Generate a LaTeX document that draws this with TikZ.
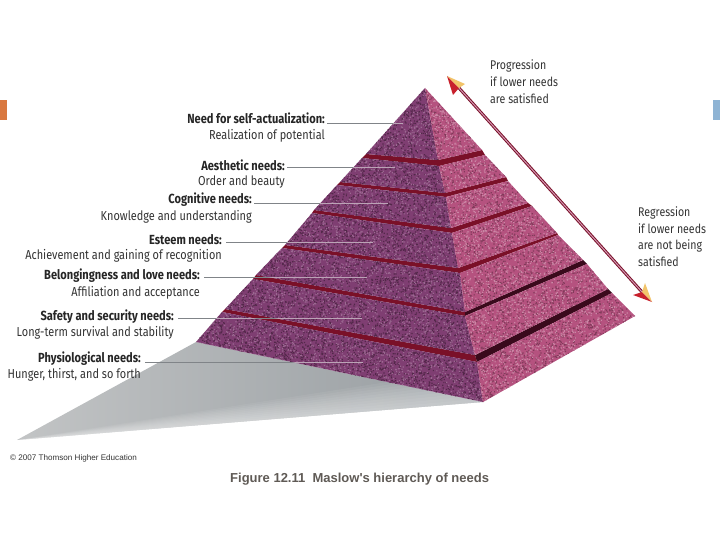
\documentclass[tikz,border=0pt]{standalone}
\usepackage{fontspec}
\setmainfont[FakeStretch=0.84]{Fira Sans}
\newfontfamily\capfont{Liberation Sans}
\definecolor{lface}{HTML}{7F3E72}
\definecolor{rface}{HTML}{B5527F}
\definecolor{slot}{HTML}{7A1028}
\definecolor{slotdark}{HTML}{3A0A1C}
\definecolor{lead}{HTML}{808488}
\definecolor{leadin}{HTML}{BBA3B6}
\definecolor{txt}{HTML}{333333}
\definecolor{capcol}{HTML}{5F5A55}
\definecolor{arrred}{HTML}{C8202C}
\definecolor{arryel}{HTML}{F2C46A}
\definecolor{sqorange}{HTML}{D97840}
\definecolor{sqblue}{HTML}{8FB4D4}
\definecolor{shlight}{HTML}{C2C4C5}
\definecolor{shdark}{HTML}{969CA0}
\colorlet{lsd}{black!35!lface}
\colorlet{lsl}{white!22!lface}
\colorlet{rsd}{black!28!rface}
\colorlet{rsl}{white!30!rface}
\tikzset{
  head/.style={font=\fontsize{13.2}{15}\selectfont\bfseries,text=black!85,anchor=east,inner sep=0pt},
  sub/.style={font=\fontsize{13}{15}\selectfont,text=txt,anchor=east,inner sep=0pt},
  note/.style={font=\fontsize{12.6}{15}\selectfont,text=txt,anchor=west,inner sep=0pt},
  leader/.style={draw=lead,line width=0.9pt},
  leaderin/.style={draw=leadin,line width=0.9pt}
}
\makeatletter
\newdimen\spx \newdimen\spy \newdimen\spw \newdimen\sph \newdimen\spxo \newdimen\spyo
\newcount\spn \newcount\spm
\def\spstep{%
  \ifnum\spm>0
    \pgfmathrnd\spx=\pgfmathresult\spw
    \pgfmathrnd\spy=\pgfmathresult\sph
    \advance\spx\spxo \advance\spy\spyo
    \spx=0.99626\spx \spy=-0.99626\spy
    \edef\spacc{\spacc\strip@pt\spx\space\strip@pt\spy\space 1.2 1.2 re }%
    \advance\spm-1
    \expandafter\spstep
  \fi}
\def\spbatch{%
  \ifnum\spn>0
    \def\spacc{}\spm=300 \spstep
    \pgfsys@invoke{\spacc f }%
    \advance\spn-300
    \expandafter\spbatch
  \fi}
\newcommand{\specks}[6]{% x0 y0 w h n colour
  \pgfscope\pgfsetfillcolor{#6}%
  \spxo=#1pt \spyo=#2pt \spw=#3pt \sph=#4pt \spn=#5\relax
  \spbatch
  \endpgfscope}
\makeatother
\newcommand{\leftfaces}{
  (425,88) -- (366,154) -- (438,160) -- cycle
  (362,158) -- (340,182) -- (445,193) -- (439,166) -- cycle
  (337,185) -- (314,210) -- (451,228) -- (446,197) -- cycle
  (312,213) -- (285,245) -- (458,268) -- (452,233) -- cycle
  (282,248) -- (256,275) -- (465,312) -- (460,273) -- cycle
  (253,279) -- (225,309) -- (475,355) -- (465,316) -- cycle
  (222,312) -- (196,342) -- (483,402) -- (477,362) -- cycle
}
\newcommand{\rightfaces}{
  (425,88) -- (438,160) -- (482,150) -- cycle
  (439,166) -- (445,193) -- (506,177) -- (485,155) -- cycle
  (446,197) -- (451,228) -- (528,203) -- (508,181) -- cycle
  (452,233) -- (458,268) -- (557,233) -- (532,206) -- cycle
  (460,273) -- (465,312) -- (583,260) -- (558,235) -- cycle
  (465,316) -- (475,355) -- (608,289) -- (587,264) -- cycle
  (477,362) -- (483,402) -- (635,316) -- (612,293) -- cycle
}
\begin{document}
\begin{tikzpicture}[x=1pt,y=-1pt]
\useasboundingbox (0,0) rectangle (720,540);
\pgfmathsetseed{4711}
\fill[white] (0,0) rectangle (720,540);
\fill[sqorange] (0,100) rectangle (7,120);
\fill[sqblue] (713,100) rectangle (720,120);
% shadow
\begin{scope}
  \clip (196,342) -- (17,440) -- (483,402) -- cycle;
  \shade[left color=shlight,right color=shdark] (17,342) rectangle (483,440);
  \foreach \k in {1,...,10} {
    \fill[white,opacity=0.06] (17,440) -- (483,402) -- (483,{402-3.5*\k}) -- cycle;
  }
\end{scope}
% slots
\fill[slot] (366,154) -- (438,160) -- (482,150) -- (485,155) -- (439,166) -- (362,158) -- cycle;
\fill[slot] (340,182) -- (445,193) -- (506,177) -- (508,181) -- (446,197) -- (337,185) -- cycle;
\fill[slot] (314,210) -- (451,228) -- (528,203) -- (532,206) -- (452,233) -- (312,213) -- cycle;
\fill[slot] (285,245) -- (458,268) -- (557,233) -- (558,235) -- (460,273) -- (282,248) -- cycle;
\fill[slot] (256,275) -- (465,312) -- (465,316) -- (253,279) -- cycle;
\fill[slotdark] (465,312) -- (583,260) -- (587,264) -- (465,316) -- cycle;
\fill[slot] (225,309) -- (475,355) -- (477,362) -- (222,312) -- cycle;
\fill[slotdark] (475,355) -- (608,289) -- (612,293) -- (477,362) -- cycle;
% left faces
\begin{scope}
  \fill[lface] \leftfaces;
  \clip \leftfaces;
  \specks{196}{88}{290}{315}{12000}{lsd}
  \specks{196}{88}{290}{315}{7000}{lsl}
\end{scope}
% right faces
\begin{scope}
  \fill[rface] \rightfaces;
  \clip \rightfaces;
  \specks{425}{88}{210}{315}{7000}{rsd}
  \specks{425}{88}{210}{315}{7000}{rsl}
\end{scope}
% leaders
\coordinate (s1) at (327,123); \coordinate (e1) at (403,123);
\coordinate (s2) at (287,167); \coordinate (e2) at (395,167);
\coordinate (s3) at (254,203); \coordinate (e3) at (388,203);
\coordinate (s4) at (226,242); \coordinate (e4) at (373,242);
\coordinate (s5) at (204,277); \coordinate (e5) at (367,277);
\coordinate (s6) at (178,318); \coordinate (e6) at (362,318);
\coordinate (s7) at (145,362); \coordinate (e7) at (363,362);
\foreach \n in {1,...,7} { \draw[leader] (s\n) -- (e\n); }
\begin{scope}
  \clip \leftfaces;
  \foreach \n in {1,...,7} { \draw[leaderin] (s\n) -- (e\n); }
\end{scope}
% labels
\node[head] (h1) at (325,118.5) {Need for self-actualization:};
\node[sub]  (d1) at (325,135.5) {Realization of potential};
\node[head] (h2) at (285,165.5) {Aesthetic needs:};
\node[sub]  (d2) at (285,182.5) {Order and beauty};
\node[head] (h3) at (252,199.5) {Cognitive needs:};
\node[sub]  (d3) at (252,216.5) {Knowledge and understanding};
\node[head] (h4) at (222,239.5) {Esteem needs:};
\node[sub]  (d4) at (222,255.5) {Achievement and gaining of recognition};
\node[head] (h5) at (200,275.5) {Belongingness and love needs:};
\node[sub]  (d5) at (200,292.5) {Affiliation and acceptance};
\node[head] (h6) at (174,316.5) {Safety and security needs:};
\node[sub]  (d6) at (174,332.5) {Long-term survival and stability};
\node[head] (h7) at (141,358.5) {Physiological needs:};
\node[sub]  (d7) at (141,374.5) {Hunger, thirst, and so forth};
\node[note] (p1) at (490,65.5) {Progression};
\node[note] (p2) at (490,81.5) {if lower needs};
\node[note] (p3) at (490,98.5) {are satisfied};
\node[note] (r1) at (638,212.5) {Regression};
\node[note] (r2) at (638,228.5) {if lower needs};
\node[note] (r3) at (638,245.5) {are not being};
\node[note] (r4) at (638,261.5) {satisfied};
\node[anchor=west,inner sep=0pt,font=\capfont\fontsize{8.1}{9}\selectfont,text=txt] (cr) at (10,458) {© 2007 Thomson Higher Education};
\node[anchor=west,inner sep=0pt,font=\capfont\bfseries\fontsize{13}{15}\selectfont,text=capcol] (cap) at (230,479.5) {Figure 12.11\ \ Maslow's hierarchy of needs};
% arrow
\coordinate (at) at (459,88); \coordinate (ab) at (642,292);
\draw[line width=3pt,draw=slot] (at) -- (ab);
\draw[line width=1pt,draw=rface!60!white] (at) -- (ab);
\fill[arrred] (447,76) -- (453,95) -- (459,88) -- cycle;
\fill[arryel] (447,76) -- (465,84) -- (459,88) -- cycle;
\fill[arrred] (652,302) -- (633,295) -- (642,292) -- cycle;
\fill[arryel] (652,302) -- (645,283) -- (642,292) -- cycle;
\end{tikzpicture}
\end{document}
